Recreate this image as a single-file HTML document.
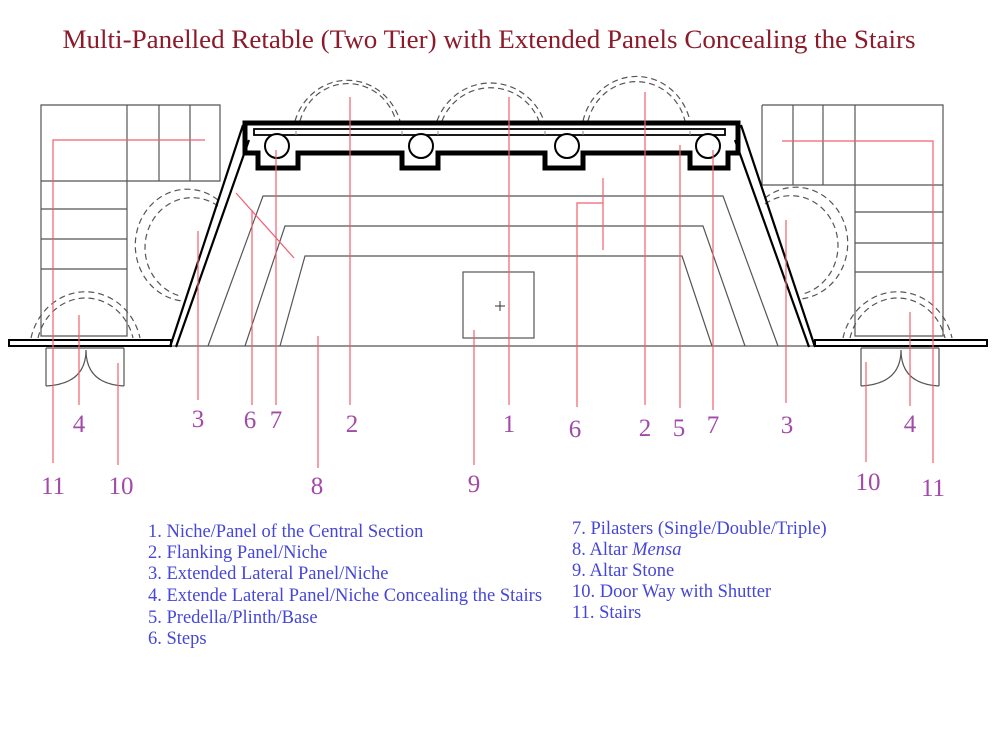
<!DOCTYPE html>
<html><head><meta charset="utf-8"><style>
html,body{margin:0;padding:0;background:#fff;}
svg{display:block;}
</style></head><body>
<svg width="1000" height="743" viewBox="0 0 1000 743" xmlns="http://www.w3.org/2000/svg" font-family="Liberation Serif, serif">
<rect width="1000" height="743" fill="#fff"/>
<text x="489" y="48" text-anchor="middle" font-size="26" fill="#8b1a2a" textLength="853" lengthAdjust="spacingAndGlyphs">Multi-Panelled Retable (Two Tier) with Extended Panels Concealing the Stairs</text>

<g fill="none" stroke="#555" stroke-width="1.2" stroke-dasharray="6,4">
<path d="M295,121 A55,58 0 0 1 400,121"/>
<path d="M300,121 A50,52 0 0 1 396,121"/>
<path d="M437,121 A57,58 0 0 1 544,121"/>
<path d="M442,121 A52,52 0 0 1 539,121"/>
<path d="M583,121 A55,58 0 0 1 690,121"/>
<path d="M588,121 A50,52 0 0 1 685,121"/>
<path d="M218,200 A52,56 0 1 0 183,301"/>
<path d="M218,206 A47,50 0 1 0 180,296"/>
<path d="M765,198 A52,56 0 1 1 800,299"/>
<path d="M765,204 A47,50 0 1 1 803,294"/>
<path d="M31,338 A56,60 0 0 1 140,338"/>
<path d="M38,338 A49,53 0 0 1 133,338"/>
<path d="M843,338 A56,60 0 0 1 952,338"/>
<path d="M850,338 A49,53 0 0 1 945,338"/>
</g>

<g fill="none" stroke="#555" stroke-width="1.2">
<path d="M41,105 H220 V181 H41 Z M41,105 V336 H127 V105 M159,105 V181 M190,105 V181 M41,209 H127 M41,239 H127 M41,269 H127"/>
<path d="M762,105 H943 V336 H855 V105 M762,105 V185 H943 M793,105 V185 M823,105 V185 M855,212 H943 M855,243 H943 M855,272 H943"/>
<path d="M46,348 V386 M124,348 V386 M46,348 H124 M86,350 Q86,384 46,386 M86,350 Q86,384 124,386"/>
<path d="M861,348 V386 M939,348 V386 M861,348 H939 M901,350 Q901,384 861,386 M901,350 Q901,384 939,386"/>
<path d="M208,346 L263,196 H723 L778,346"/>
<path d="M245,346 L285,226 H703 L745,346"/>
<path d="M280,346 L305,256 H682 L712,346"/>
<path d="M170,346 H815"/>
<rect x="463" y="272" width="71" height="66"/>
<path d="M495,306 H505 M500,301 V311" stroke="#333" stroke-width="1"/>
</g>

<g fill="#fff" stroke="#000" stroke-width="2">
<rect x="9" y="340" width="162" height="6"/>
<rect x="815" y="340" width="172" height="6"/>
</g>
<g stroke="#000" stroke-width="2.2" fill="none">
<path d="M170,347 L243,125"/>
<path d="M176,347 L249,140"/>
<path d="M741,125 L815,347"/>
<path d="M735,140 L809,347"/>
</g>

<path fill="none" stroke="#000" stroke-width="5" d="M245,123 H738 V153 H728 V168 H690 V153 H583 V168 H545 V153 H438 V168 H402 V153 H298 V168 H258 V153 H245 Z"/>
<rect x="254" y="129" width="471" height="6" fill="#fff" stroke="#000" stroke-width="1.8"/>
<path d="M296,131 V135 M402,131 V135 M438,131 V135 M545,131 V135 M583,131 V135 M690,131 V135" stroke="#888" stroke-width="1"/>
<g fill="#fff" stroke="#000" stroke-width="2">
<circle cx="277" cy="146" r="12"/>
<circle cx="421" cy="146" r="12"/>
<circle cx="567" cy="146" r="12"/>
<circle cx="708" cy="146" r="12"/>
</g>

<g stroke="#f06070" stroke-width="1.2" fill="none">
<path d="M53,463 V140 H205"/>
<path d="M79,315 V405"/>
<path d="M118,363 V465"/>
<path d="M198,231 V400"/>
<path d="M252,210 V405"/>
<path d="M236,193 L294,258"/>
<path d="M276,150 V405"/>
<path d="M350,97 V405"/>
<path d="M318,336 V468"/>
<path d="M474,330 V465"/>
<path d="M509,97 V405"/>
<path d="M577,407 V203 H603 M603,178 V250"/>
<path d="M645,92 V405"/>
<path d="M680,145 V408"/>
<path d="M713,150 V410"/>
<path d="M786,220 V403"/>
<path d="M910,312 V406"/>
<path d="M866,362 V462"/>
<path d="M933,463 V141 H782"/>
</g>

<g fill="#a24aa8" font-size="25" text-anchor="middle">
<text x="79" y="432">4</text>
<text x="53" y="494">11</text>
<text x="121" y="494">10</text>
<text x="198" y="427">3</text>
<text x="250" y="428">6</text>
<text x="276" y="428">7</text>
<text x="352" y="432">2</text>
<text x="317" y="494">8</text>
<text x="474" y="492">9</text>
<text x="509" y="432">1</text>
<text x="575" y="437">6</text>
<text x="645" y="436">2</text>
<text x="679" y="436">5</text>
<text x="713" y="433">7</text>
<text x="787" y="433">3</text>
<text x="910" y="432">4</text>
<text x="868" y="490">10</text>
<text x="933" y="496">11</text>
</g>

<g fill="#4646d8" font-size="18.5">
<text x="148" y="537">1. Niche/Panel of the Central Section</text>
<text x="148" y="558">2. Flanking Panel/Niche</text>
<text x="148" y="579">3. Extended Lateral Panel/Niche</text>
<text x="148" y="601">4. Extende Lateral Panel/Niche Concealing the Stairs</text>
<text x="148" y="623">5. Predella/Plinth/Base</text>
<text x="148" y="644">6. Steps</text>
<text x="572" y="534">7. Pilasters (Single/Double/Triple)</text>
<text x="572" y="555">8. Altar <tspan font-style="italic">Mensa</tspan></text>
<text x="572" y="576">9. Altar Stone</text>
<text x="572" y="597">10. Door Way with Shutter</text>
<text x="572" y="618">11. Stairs</text>
</g>
</svg>
</body></html>
